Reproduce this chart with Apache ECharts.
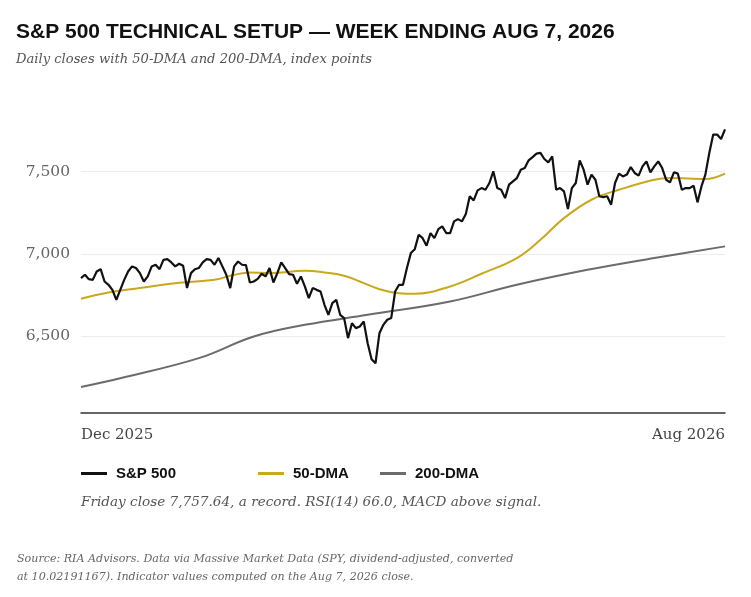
<!DOCTYPE html>
<html><head><meta charset="utf-8">
<script src="https://cdn.jsdelivr.net/npm/echarts@6/dist/echarts.min.js"></script>
<style>html,body{margin:0;padding:0;background:#fff}#c{width:751px;height:597px}</style>
</head><body><div id="c"></div>
<script>
const closes = [6852,6872,6845,6841,6892,6906,6831,6811,6780,6719,6780,6841,6892,6923,6913,6882,6831,6862,6923,6933,6906,6963,6967,6947,6923,6939,6927,6791,6882,6906,6913,6947,6967,6963,6933,6974,6923,6872,6791,6923,6953,6933,6931,6825,6831,6847,6878,6862,6913,6825,6882,6947,6913,6876,6872,6817,6862,6801,6730,6791,6780,6770,6689,6628,6699,6719,6628,6608,6486,6577,6547,6557,6587,6455,6358,6333,6516,6567,
6598,6608,6770,6811,6811,6913,7004,7028,7116,7095,7049,7126,7095,7150,7167,7126,7126,7197,7211,7197,7242,7350,7325,7386,7400,7390,7431,7502,7400,7390,7339,7421,7441,7461,7512,7522,7569,7589,7610,7614,7577,7557,7593,7390,7400,7380,7272,7400,7431,7569,7512,7421,7482,7451,7350,7345,7350,7299,7431,7488,7471,7482,7528,7492,7476,7532,7563,7496,7532,7563,7522,7451,7435,7496,7488,7390,7400,7400,7414,7313,7410,7482,7614,7726,7726,7699,7758];
// [session index, value]
const dma50 = [[0,6726],[7,6764],[15,6791],[24,6821],[34,6841],[39,6872],[43,6886],[48,6882],[57,6896],[62,6886],[67,6866],[71,6831],[76,6784],[81,6760],[85,6756],[94,6801],[102,6878],[111,6974],[117,7085],[123,7217],[130,7329],[137,7390],[146,7451],[150,7461],[159,7455],[164,7488]];
const dma200 = [[0,6189],[10,6242],[30,6364],[44,6496],[57,6567],[73,6628],[94,6709],[111,6811],[129,6902],[146,6974],[164,7045]];
const yTicks = [6500,7000,7500];

const dates = [];
let d = new Date(Date.UTC(2026,7,7));
while (dates.length < closes.length) {
  const wd = d.getUTCDay();
  if (wd !== 0 && wd !== 6) dates.unshift(d.toISOString().slice(0,10));
  d = new Date(d.getTime() - 86400000);
}
const mon = ['Jan','Feb','Mar','Apr','May','Jun','Jul','Aug','Sep','Oct','Nov','Dec'];
const fmtDate = s => mon[+s.slice(5,7)-1] + ' ' + s.slice(0,4);
const last = dates.length - 1;

const serif = '"DejaVu Serif","Liberation Serif",serif';
const sans = '"Liberation Sans",Arial,sans-serif';
const chart = echarts.init(document.getElementById('c'));
const leg = (name, left) => ({
  data:[name], left:left, top:466, padding:0, itemWidth:26, itemHeight:3, icon:'rect', itemGap:0,
  textStyle:{fontFamily:sans, fontWeight:'bold', fontSize:15, color:'#111', padding:[0,0,0,4]}, selectedMode:false
});
chart.setOption({
  animation:false,
  title:[
    {text:'S&P 500 TECHNICAL SETUP — WEEK ENDING AUG 7, 2026', left:11, top:17,
     textStyle:{fontFamily:sans, fontWeight:'bold', fontSize:21, color:'#111'}},
    {text:'Daily closes with 50-DMA and 200-DMA, index points', left:11, top:48,
     textStyle:{fontFamily:serif, fontStyle:'italic', fontWeight:'normal', fontSize:13.1, color:'#555'}},
    {text:'Friday close 7,757.64, a record. RSI(14) 66.0, MACD above signal.', left:76, top:490,
     textStyle:{fontFamily:serif, fontStyle:'italic', fontWeight:'normal', fontSize:13.6, color:'#555'}},
    {text:'Source: RIA Advisors. Data via Massive Market Data (SPY, dividend-adjusted, converted\nat 10.02191167). Indicator values computed on the Aug 7, 2026 close.', left:12, top:545,
     textStyle:{fontFamily:serif, fontStyle:'italic', fontWeight:'normal', fontSize:11.1, color:'#666', lineHeight:18}}
  ],
  legend:[leg('S&P 500',81), leg('50-DMA',258), leg('200-DMA',380)],
  grid:{left:81, right:26, top:106, bottom:184},
  xAxis:{type:'category', data:dates, boundaryGap:false,
    axisLine:{lineStyle:{color:'#333', width:1.5}}, axisTick:{show:false},
    axisLabel:{interval:(i)=> i===0 || i===last, formatter:fmtDate, alignMinLabel:'left', alignMaxLabel:'right',
      fontFamily:serif, fontSize:15, color:'#444', margin:15}},
  yAxis:{type:'value', min:6030, max:7900,
    axisLine:{show:false}, axisTick:{show:false},
    axisLabel:{customValues:yTicks, formatter:v=>v.toLocaleString('en-US'), fontFamily:serif, fontSize:15.5, color:'#666', margin:11},
    splitLine:{show:false}},
  series:[
    {name:'S&P 500', type:'line', data:closes, showSymbol:false, lineStyle:{color:'#111', width:2.2}, itemStyle:{color:'#111'}, z:5,
     markLine:{silent:true, symbol:'none', label:{show:false}, lineStyle:{color:'#ececec', width:1, type:'solid'},
       data:yTicks.map(v=>({yAxis:v})), z:1}},
    {name:'50-DMA', type:'line', data:dma50, smooth:0.4, showSymbol:false, lineStyle:{color:'#c9a81c', width:2}, itemStyle:{color:'#c9a81c'}, z:4},
    {name:'200-DMA', type:'line', data:dma200, smooth:0.4, showSymbol:false, lineStyle:{color:'#6b6b6b', width:2}, itemStyle:{color:'#6b6b6b'}, z:3}
  ]
});
</script></body></html>
